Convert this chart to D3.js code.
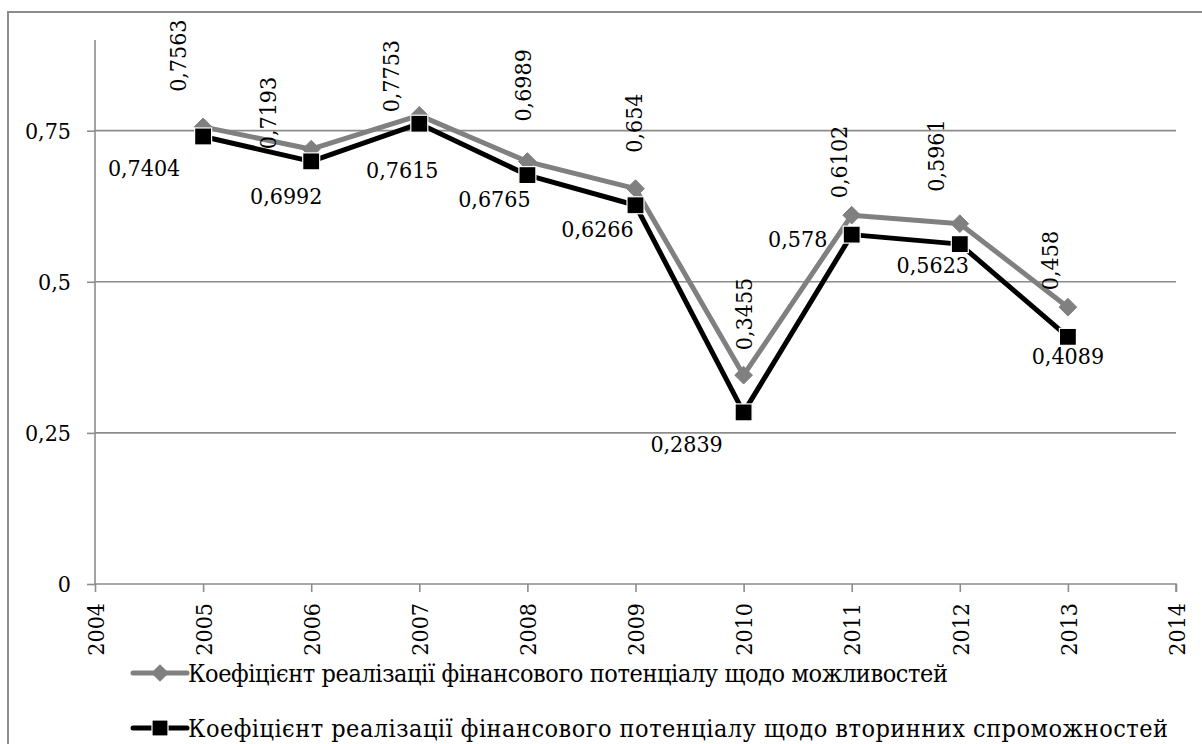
<!DOCTYPE html>
<html><head><meta charset="utf-8">
<script src="https://cdn.jsdelivr.net/npm/d3@7"></script>
<style>html,body{margin:0;padding:0;background:#fff;overflow:hidden}svg{display:block}svg text{font-family:"DejaVu Serif Condensed","DejaVu Serif",serif !important;font-stretch:condensed;fill:#000}</style>
</head><body><svg id="c" width="1202" height="744"></svg>
<script>
const years = [2005, 2006, 2007, 2008, 2009, 2010, 2011, 2012, 2013];
const seriesNames = [
  "Коефіцієнт реалізації фінансового потенціалу щодо можливостей",
  "Коефіцієнт реалізації фінансового потенціалу щодо вторинних спроможностей"
];
const possibilities = [0.7563, 0.7193, 0.7753, 0.6989, 0.654, 0.3455, 0.6102, 0.5961, 0.458];
const secondary = [0.7404, 0.6992, 0.7615, 0.6765, 0.6266, 0.2839, 0.578, 0.5623, 0.4089];
const yTicks = [0, 0.25, 0.5, 0.75];
const xTicks = [2004, 2005, 2006, 2007, 2008, 2009, 2010, 2011, 2012, 2013, 2014];

// manual label placement (layout, not data)
const lab1 = [[-25,35],[-43,0],[-29,3],[-5,40],[-2,36],[0,25],[-13,17],[-24,32],[-18,17]];
const lab2 = [[-59,40],[-25,43],[-17,54],[-33,32],[-38,32],[-57,40],[-54,12],[-27,29],[0,27]];

const svg = d3.select("#c");
const fmt = v => String(v).replace(".", ",");
const x = d3.scaleLinear().domain([2004, 2014]).range([95, 1176]);
const y = d3.scaleLinear().domain([0, 0.9]).range([584, 40]);
const FS = 23;
const FF = '"DejaVu Serif Condensed","DejaVu Serif",serif';

svg.append("text").attr("x", 160).attr("y", -6).attr("font-size", 30).attr("font-family", FF).text("рисунку 3,");

svg.append("rect").attr("x", 8).attr("y", 12).attr("width", 1300).attr("height", 800)
  .attr("fill", "none").attr("stroke", "#8c8c8c").attr("stroke-width", 2);

svg.append("g").selectAll("line").data(yTicks.filter(d => d > 0)).join("line")
  .attr("x1", x(2004)).attr("x2", x(2014)).attr("y1", d => y(d)).attr("y2", d => y(d))
  .attr("stroke", "#8c8c8c").attr("stroke-width", 1.6);

const ya = svg.append("g").attr("transform", `translate(${x(2004)},0)`)
  .call(d3.axisLeft(y).tickValues(yTicks).tickSize(8).tickPadding(16).tickFormat(fmt))
  .attr("font-family", FF);
ya.select(".domain").attr("stroke", "#8c8c8c").attr("stroke-width", 1.6).attr("d", `M0,${y(0.9)}V${y(0)}`);
ya.selectAll(".tick line").attr("stroke", "#8c8c8c").attr("stroke-width", 1.6);
ya.selectAll(".tick text").attr("font-size", FS).attr("fill", "#000");

const xa = svg.append("g").attr("transform", `translate(0,${y(0)})`)
  .call(d3.axisBottom(x).tickValues(xTicks).tickSize(8).tickFormat(d3.format("d")))
  .attr("font-family", FF);
xa.select(".domain").attr("stroke", "#8c8c8c").attr("stroke-width", 1.6).attr("d", `M${x(2004)},0H${x(2014)}V8`);
xa.selectAll(".tick line").attr("stroke", "#8c8c8c").attr("stroke-width", 1.6);
xa.selectAll(".tick text").attr("font-size", FS).attr("fill", "#000")
  .attr("text-anchor", "end").attr("transform", "rotate(-90)")
  .attr("x", -19).attr("y", 0).attr("dy", "0.36em");

const line = d3.line().x((d, i) => x(years[i])).y(d => y(d));
const GRAY = "#808080";

svg.append("path").datum(possibilities).attr("d", line).attr("fill", "none")
  .attr("stroke", GRAY).attr("stroke-width", 5).attr("stroke-linejoin", "round");
svg.append("path").datum(secondary).attr("d", line).attr("fill", "none")
  .attr("stroke", "#000").attr("stroke-width", 5).attr("stroke-linejoin", "round");

const diamond = d3.symbol().type(d3.symbolDiamond2).size(200);
svg.append("g").selectAll("path").data(possibilities).join("path")
  .attr("d", diamond).attr("transform", (d, i) => `translate(${x(years[i])},${y(d)})`)
  .attr("fill", GRAY).attr("stroke", GRAY).attr("stroke-width", 1);
svg.append("g").selectAll("rect").data(secondary).join("rect")
  .attr("x", (d, i) => x(years[i]) - 8.5).attr("y", d => y(d) - 8.5)
  .attr("width", 17).attr("height", 17).attr("fill", "#000").attr("stroke", "#fff").attr("stroke-width", 1.2);

svg.append("g").attr("font-family", FF).selectAll("text").data(possibilities).join("text")
  .attr("font-size", FS).attr("text-anchor", "start").attr("dy", "0.36em")
  .attr("transform", (d, i) => `translate(${x(years[i]) + lab1[i][0]},${y(d) - lab1[i][1]}) rotate(-90)`)
  .text(fmt);
svg.append("g").attr("font-family", FF).selectAll("text").data(secondary).join("text")
  .attr("font-size", FS).attr("text-anchor", "middle")
  .attr("x", (d, i) => x(years[i]) + lab2[i][0]).attr("y", (d, i) => y(d) + lab2[i][1])
  .text(fmt);

const lg = svg.append("g").attr("font-family", FF);
const rows = [
  {name: seriesNames[0], color: GRAY, shape: "diamond", cy: 673, len: 760},
  {name: seriesNames[1], color: "#000", shape: "square", cy: 728, len: 980}
];
rows.forEach(r => {
  lg.append("line").attr("x1", 133).attr("x2", 187).attr("y1", r.cy).attr("y2", r.cy)
    .attr("stroke", r.color).attr("stroke-width", 5).attr("stroke-linecap", "round");
  if (r.shape === "diamond") {
    lg.append("path").attr("d", diamond).attr("transform", `translate(160,${r.cy})`).attr("fill", GRAY);
  } else {
    lg.append("rect").attr("x", 152).attr("y", r.cy - 8).attr("width", 16).attr("height", 16)
      .attr("fill", "#000").attr("stroke", "#fff").attr("stroke-width", 1.2);
  }
  lg.append("text").attr("x", 188).attr("y", r.cy).attr("dy", "0.36em").attr("font-size", 25)
    .attr("textLength", r.len).attr("lengthAdjust", "spacing").text(r.name);
});
</script></body></html>
